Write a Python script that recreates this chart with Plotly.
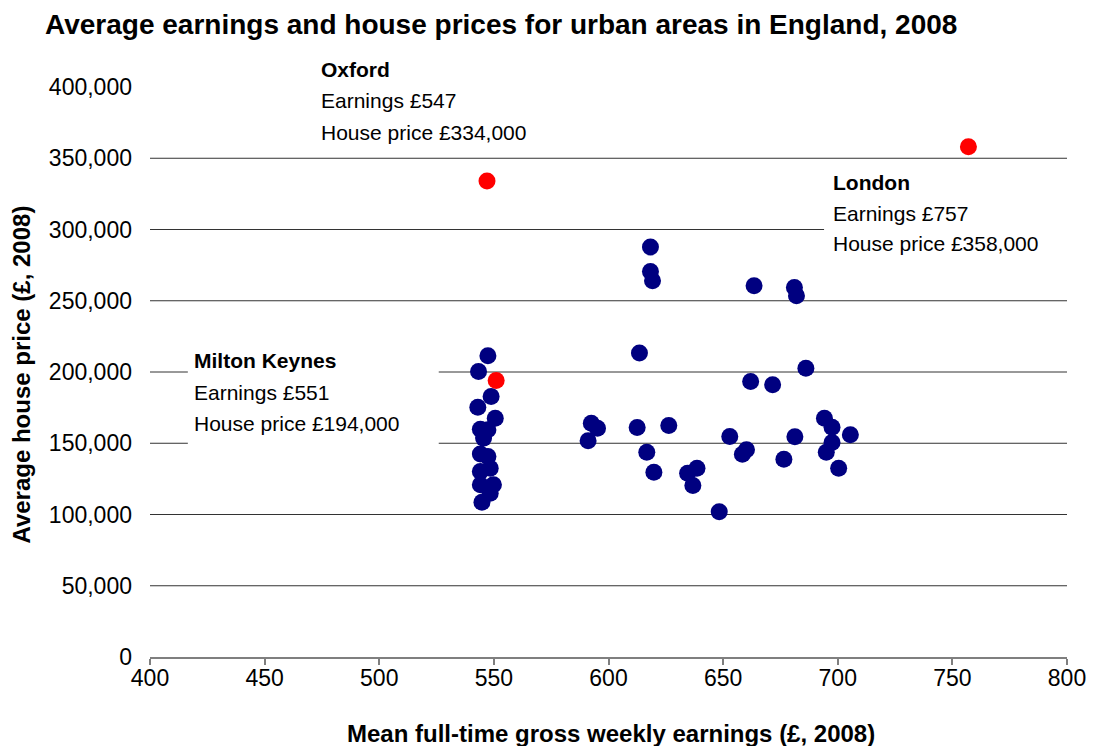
import plotly.graph_objects as go

# urban areas (excluding highlighted ones): mean weekly earnings (£) and average house price (£)
earnings = [547.4, 543.3, 548.8, 543.0, 550.6, 544.1, 547.4, 545.5, 544.1, 547.4,
            544.1, 548.4, 544.1, 549.8, 548.4, 544.8,
            618.3, 618.3, 619.2, 663.5, 681.1, 682.0, 613.5, 686.1, 662.0, 671.6,
            592.5, 595.2, 591.1, 612.5, 626.3, 616.7, 619.8, 638.6, 634.5, 636.8,
            648.3, 652.9, 660.2, 658.4, 676.5, 681.3,
            694.2, 697.5, 705.5, 697.5, 695.0, 700.4]
prices = [211400, 200300, 182800, 175300, 167600, 159900, 159400, 153600, 142500, 140700,
          130100, 132500, 120800, 120800, 114900, 108600,
          287700, 270600, 264000, 260500, 259300, 253500, 213300, 202700, 193300, 191000,
          164100, 160600, 151700, 161000, 162400, 143700, 129700, 132500, 129000, 120300,
          102000, 154700, 145400, 142300, 138800, 154500,
          167600, 161300, 155900, 150500, 143700, 132500]

# highlighted areas
hl_names = ["Oxford", "London", "Milton Keynes"]
hl_earnings = [547, 757, 551]
hl_prices = [334000, 358000, 194000]

y_ticks = [0, 50000, 100000, 150000, 200000, 250000, 300000, 350000, 400000]
y_grid = [50000, 100000, 150000, 200000, 250000, 300000, 350000]
x_ticks = [400, 450, 500, 550, 600, 650, 700, 750, 800]

FONT = "Liberation Sans, Arial, sans-serif"
OFF = 8                      # page body margin
W, H = 1098 - OFF, 746 - OFF
L, R, T, B = 150 - OFF, 1071 - OFF, 87 - OFF, 657 - OFF   # plot area in pixels


def px(xp, yp):
    # screen pixel position -> paper coordinates
    xp, yp = xp - OFF, yp - OFF
    return (xp - L) / (R - L), (B - yp) / (B - T)


fig = go.Figure()
fig.add_trace(go.Scatter(x=earnings, y=prices, mode="markers", name="Urban areas",
                         marker=dict(color="#000080", size=17, line=dict(width=0))))
fig.add_trace(go.Scatter(x=hl_earnings, y=hl_prices, mode="markers", name="Highlighted",
                         marker=dict(color="#ff0000", size=17, line=dict(width=0))))

# gridlines (no line at the top of the range)
for v in y_grid:
    fig.add_shape(type="line", xref="paper", yref="y", x0=0, x1=1, y0=v, y1=v,
                  line=dict(color="#333333", width=1), layer="below")

# white boxes behind the labels, hiding the gridlines
for (x0p, y0p, x1p, y1p) in [(188, 345, 440, 450), (827, 166, 1078, 256)]:
    a0, b0 = px(x0p, y1p)
    a1, b1 = px(x1p, y0p)
    fig.add_shape(type="rect", xref="paper", yref="paper", x0=a0, x1=a1, y0=b0, y1=b1,
                  fillcolor="white", line=dict(width=0), layer="below")

label_pos = {"Oxford": (320, [70, 101, 132]),
             "London": (834, [182, 213, 244]),
             "Milton Keynes": (192, [360, 392, 423])}
for name, e, p in zip(hl_names, hl_earnings, hl_prices):
    xp, ys = label_pos[name]
    lines = [f"<b>{name}</b>", f"Earnings £{e}", f"House price £{p:,}"]
    for txt, yp in zip(lines, ys):
        ax, ay = px(xp, yp)
        fig.add_annotation(x=ax, y=ay, xref="paper", yref="paper", text=txt,
                           showarrow=False, xanchor="left", yanchor="middle",
                           font=dict(family=FONT, size=21, color="black"))

# axis titles
ax, ay = px(20, 375)
fig.add_annotation(x=ax, y=ay, xref="paper", yref="paper", text="<b>Average house price (£, 2008)</b>",
                   textangle=-90, showarrow=False, xanchor="center", yanchor="middle",
                   font=dict(family=FONT, size=24, color="black"))
ax, ay = px(613, 733)
fig.add_annotation(x=ax, y=ay, xref="paper", yref="paper",
                   text="<b>Mean full-time gross weekly earnings (£, 2008)</b>",
                   showarrow=False, xanchor="center", yanchor="middle",
                   font=dict(family=FONT, size=24, color="black"))

fig.update_layout(
    width=W, height=H,
    paper_bgcolor="white", plot_bgcolor="white",
    showlegend=False,
    margin=dict(l=L, r=W - R, t=T, b=H - B, pad=0),
    title=dict(text="<b>Average earnings and house prices for urban areas in England, 2008</b>",
               x=(45 - OFF) / W, xanchor="left", xref="container",
               y=1 - (24 - OFF) / H, yanchor="middle", yref="container",
               font=dict(family=FONT, size=28, color="black")),
    font=dict(family=FONT, color="black"),
)
fig.update_xaxes(range=[400, 800], tickvals=x_ticks, showgrid=False, zeroline=False,
                 showline=True, linecolor="#7f7f7f", linewidth=1.5,
                 ticks="outside", ticklen=6, tickcolor="#7f7f7f", tickwidth=1.5,
                 ticklabelstandoff=-6,
                 tickfont=dict(family=FONT, size=23, color="black"))
fig.update_yaxes(range=[0, 400000], tickvals=y_ticks, tickformat=",d", showgrid=False,
                 zeroline=False, showline=False, ticks="", ticklabelstandoff=17,
                 tickfont=dict(family=FONT, size=23, color="black"))

fig.write_html("out.html")
